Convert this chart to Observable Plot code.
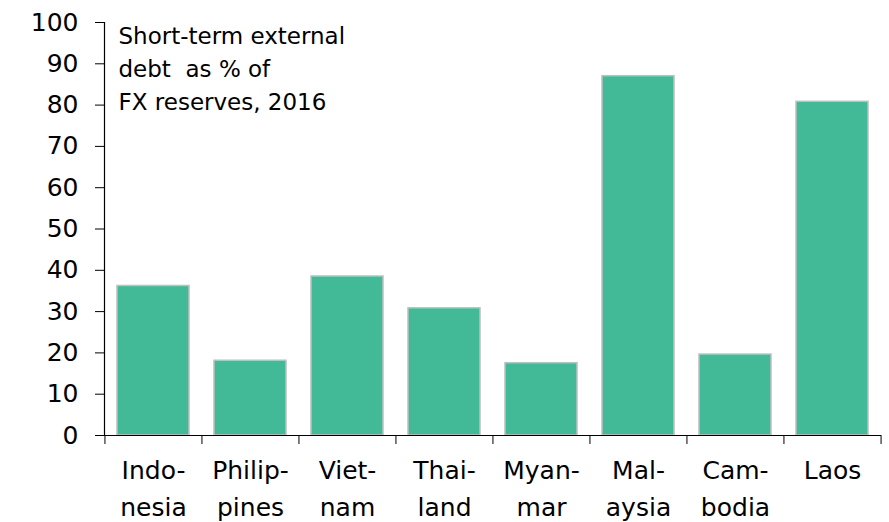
<!DOCTYPE html>
<html>
<head>
<meta charset="utf-8">
<script src="https://cdn.jsdelivr.net/npm/d3@7"></script>
<script src="https://cdn.jsdelivr.net/npm/@observablehq/plot@0.6"></script>
<style>
  html, body { margin: 0; padding: 0; background: #fff; }
  #chart svg { display: block; }
</style>
</head>
<body>
<div id="chart"></div>
<script>
const countries = ["Indonesia", "Philippines", "Vietnam", "Thailand", "Myanmar", "Malaysia", "Cambodia", "Laos"];
const labels = ["Indo-\nnesia", "Philip-\npines", "Viet-\nnam", "Thai-\nland", "Myan-\nmar", "Mal-\naysia", "Cam-\nbodia", "Laos"];
const values = [36.2, 18.1, 38.5, 30.8, 17.5, 87.0, 19.6, 80.8];
const yTicks = [0, 10, 20, 30, 40, 50, 60, 70, 80, 90, 100];
const title = "Short-term external\ndebt  as % of\nFX reserves, 2016";

const data = countries.map((c, i) => ({country: c, label: labels[i], value: values[i]}));

const width = 889, height = 522;
const marginLeft = 104, marginRight = 8, marginTop = 22, marginBottom = 87;
const step = (width - marginLeft - marginRight) / countries.length;
const font = "'DejaVu Sans', sans-serif";

const chart = Plot.plot({
  width, height, marginLeft, marginRight, marginTop, marginBottom,
  style: {fontFamily: font, color: "#000", background: "#fff"},
  x: {domain: countries, paddingInner: 0.26, paddingOuter: 0.13, axis: null, label: null},
  y: {domain: [0, 100], axis: null, label: null},
  marks: [
    Plot.barY(data, {x: "country", y: "value", fill: "#43BA97", stroke: "#BFBFBF", strokeWidth: 1.5}),
    Plot.axisY({ticks: yTicks, label: null, tickSize: 9, tickPadding: 17, fontSize: 25, stroke: "#000", fill: "#000"}),
    Plot.frame({anchor: "left", stroke: "#000", strokeWidth: 1.2}),
    Plot.ruleY([0], {stroke: "#000", strokeWidth: 1.2}),
    Plot.axisX({ticks: countries, label: null, tickSize: 9, dx: -step / 2, tickFormat: () => "", stroke: "#000"}),
    Plot.axisX({ticks: [countries[countries.length - 1]], label: null, tickSize: 9, dx: step / 2, tickFormat: () => "", stroke: "#000"}),
    Plot.text(data, {x: "country", y: 0, text: "label", dy: 17, lineAnchor: "top", lineHeight: 1.48, fontSize: 25, fill: "#000", ariaLabel: "xlabels"}),
    Plot.text([title], {frameAnchor: "top-left", dx: 14, dy: -1.5, lineAnchor: "top", textAnchor: "start", lineHeight: 1.43, fontSize: 23, fill: "#000", ariaLabel: "title"})
  ]
});
d3.select(chart).selectAll("g[aria-label=xlabels] text").style("letter-spacing", "2px");
d3.select(chart).selectAll("g[aria-label=title] text").style("letter-spacing", "1.8px");
document.getElementById("chart").appendChild(chart);
</script>
</body>
</html>
